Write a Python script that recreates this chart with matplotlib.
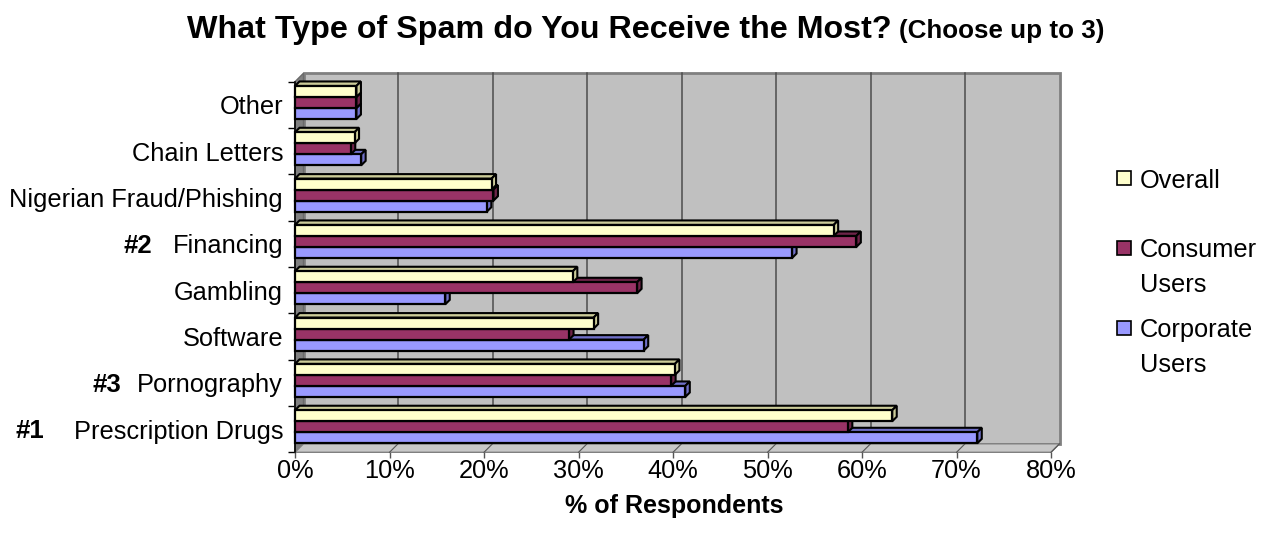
import numpy as np
import matplotlib
matplotlib.use('Agg')
import matplotlib.pyplot as plt
import matplotlib.transforms as mtransforms
from matplotlib.patches import Polygon, Rectangle

plt.rcParams['font.family'] = ['Liberation Sans', 'DejaVu Sans']

# spam categories, listed bottom to top
categories = ['Prescription Drugs', 'Pornography', 'Software', 'Gambling',
              'Financing', 'Nigerian Fraud/Phishing', 'Chain Letters', 'Other']
rank_labels = ['#1', '#3', '', '', '#2', '', '', '']

series_names = ['Overall', 'Consumer\nUsers', 'Corporate\nUsers']
overall = [63.2, 40.2, 31.6, 29.4, 57.0, 20.8, 6.3, 6.5]
consumer = [58.5, 39.8, 29.0, 36.2, 59.4, 21.0, 5.9, 6.5]
corporate = [72.2, 41.3, 36.9, 15.9, 52.6, 20.3, 7.0, 6.5]
x_ticks = [0, 10, 20, 30, 40, 50, 60, 70, 80]

face = ['#FFFFCC', '#993366', '#9999FF']
shade = ['#CCCC99', '#6E2449', '#7070C8']

W, H = 1287, 546
fig = plt.figure(figsize=(W / 100, H / 100), dpi=100)

# front plane of the 3-D box, in pixels
left, right, top, bottom = 295, 1051, 81.7, 452.3
ax = fig.add_axes([left / W, 1 - bottom / H, (right - left) / W, (bottom - top) / H])
n = len(categories)
ax.set_xlim(0, 80)
ax.set_ylim(0, n)
ax.patch.set_visible(False)

px_x = (right - left) / 80
px_y = (bottom - top) / n
wx, wy = 8.5 / px_x, 8.5 / px_y   # depth of walls
bx, by = 4.5 / px_x, 4.5 / px_y   # depth of bars

# back wall with grid, side wall and floor
ax.add_patch(Polygon([(wx, wy), (80 + wx, wy), (80 + wx, n + wy), (wx, n + wy)],
                     closed=True, fc='#C0C0C0', ec='#808080', lw=2, zorder=1, clip_on=False))
for v in x_ticks[1:-1]:
    ax.plot([v + wx, v + wx], [wy, n + wy], color='#4D4D4D', lw=1.1, zorder=1.5, clip_on=False)
ax.add_patch(Polygon([(0, 0), (wx, wy), (wx, n + wy), (0, n)],
                     closed=True, fc='#808080', ec='#6A6A6A', lw=1, zorder=2, clip_on=False))
ax.add_patch(Polygon([(0, 0), (80, 0), (80 + wx, wy), (wx, wy)],
                     closed=True, fc='#C8C8C8', ec='#808080', lw=1, zorder=2, clip_on=False))
for v in x_ticks[1:]:
    ax.plot([v, v + wx], [0, wy], color='#555555', lw=0.8, zorder=2.1, clip_on=False)

# bars: corporate at the bottom of each group, overall on top
h = 0.238
base = 0.194
for i in range(n):
    for k, vals in enumerate([corporate, consumer, overall]):
        c = 2 - k
        v = vals[i]
        y0 = i + base + k * h
        y1 = y0 + h
        z = 3 + k * 0.1
        ax.add_patch(Polygon([(0, y1), (v, y1), (v + bx, y1 + by), (bx, y1 + by)],
                             closed=True, fc=shade[c], ec='black', lw=1.5, zorder=z, clip_on=False))
        ax.add_patch(Polygon([(v, y0), (v + bx, y0 + by), (v + bx, y1 + by), (v, y1)],
                             closed=True, fc=shade[c], ec='black', lw=1.5, zorder=z, clip_on=False))
        ax.add_patch(Rectangle((0, y0), v, h, fc=face[c], ec='black', lw=1.6, zorder=z + 0.01,
                               clip_on=False))

# axes and ticks
for s in ['top', 'right', 'bottom']:
    ax.spines[s].set_visible(False)
ax.spines['left'].set_color('black')
ax.spines['left'].set_linewidth(1.2)
ax.spines['left'].set_zorder(4)

ax.set_yticks(np.arange(n) + 0.5)
ax.set_yticklabels(categories, fontsize=18.3)
ax.tick_params(axis='y', which='major', length=0, pad=8.6)
ax.set_yticks(np.arange(n + 1), minor=True)
ax.tick_params(axis='y', which='minor', length=5, width=1, color='black', direction='out')

ax.set_xticks(x_ticks)
ax.set_xticklabels([f'{v}%' for v in x_ticks], fontsize=18.3)
ax.tick_params(axis='x', length=4, width=1, color='#555555', pad=1)

# ranking marks in front of the top three categories
trans = mtransforms.blended_transform_factory(fig.transFigure, ax.transData)
rank_x = {'#1': 44, '#2': 152, '#3': 121}
for i, r in enumerate(rank_labels):
    if r:
        ax.text(rank_x[r] / W, i + 0.46, r, transform=trans, ha='right', va='center',
                fontsize=18.5, fontweight='bold')

# legend, first line of each entry level with its swatch
leg_y = [178, 248, 328]
for k, name in enumerate(series_names):
    yc = leg_y[k]
    fig.patches.append(Rectangle((1117 / W, 1 - (yc + 7) / H), 14 / W, 14 / H,
                                 fc=face[k], ec='black', lw=1.2, transform=fig.transFigure))
    for j, line in enumerate(name.split('\n')):
        fig.text(1140 / W, 1 - (yc + 35 * j) / H, line, fontsize=18.3, ha='left',
                 va='center_baseline', transform=fig.transFigure)

# titles
fig.text(892 / W, 1 - 38 / H, 'What Type of Spam do You Receive the Most?', fontsize=23.2,
         fontweight='bold', ha='right', va='baseline')
fig.text(899 / W, 1 - 38 / H, '(Choose up to 3)', fontsize=18.7, fontweight='bold',
         ha='left', va='baseline')
fig.text(674 / W, 1 - 506 / H, '% of Respondents', fontsize=18, fontweight='bold',
         ha='center', va='center')

fig.savefig('out.png', dpi=100, facecolor='white')
